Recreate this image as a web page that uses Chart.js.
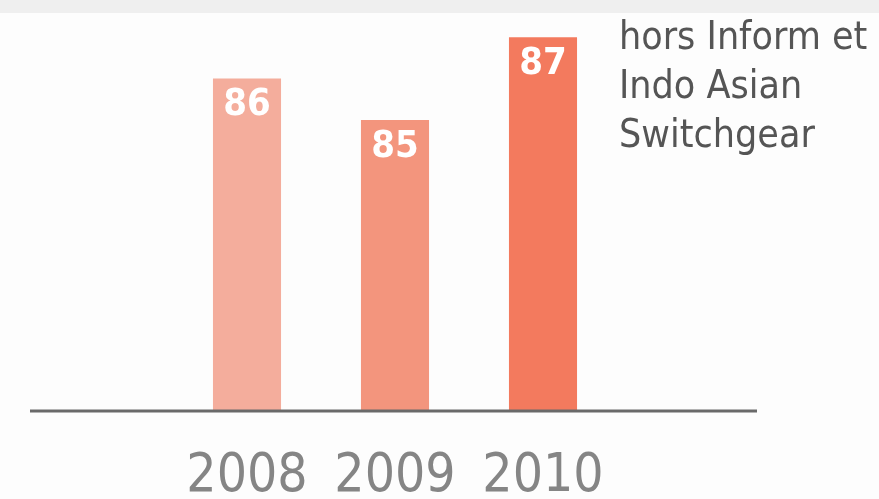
<!DOCTYPE html>
<html>
<head>
<meta charset="utf-8">
<script src="https://cdn.jsdelivr.net/npm/chart.js@4"></script>
<style>
  html, body { margin: 0; padding: 0; background: #fdfdfd; }
  #wrap { position: relative; width: 879px; height: 499px; overflow: hidden; background: #fdfdfd; }
  #strip { position: absolute; left: 0; top: 0; width: 879px; height: 13px; background: #efefef; }
  #note { position: absolute; left: 619px; top: 11px; font-family: "DejaVu Sans Condensed", "Liberation Sans Narrow", "Liberation Sans", sans-serif; font-size: 39px; line-height: 49px; color: #555; white-space: nowrap; }
  canvas { position: absolute; left: 0; top: 0; }
</style>
</head>
<body>
<div id="wrap">
  <div id="strip"></div>
  <canvas id="c" width="879" height="499"></canvas>
  <div id="note">hors Inform et<br>Indo Asian<br>Switchgear</div>
</div>
<script>
const years = ['2008', '2009', '2010'];
const values = [86, 85, 87];
const barColors = ['#f4ad9c', '#f3957d', '#f37a5e'];
const noteLines = ['hors Inform et', 'Indo Asian', 'Switchgear'];

const condensed = '"Liberation Sans Narrow", "DejaVu Sans Condensed", sans-serif';

const decor = {
  id: 'decor',
  afterDatasetsDraw(chart) {
    const ctx = chart.ctx;
    const area = chart.chartArea;
    ctx.save();
    ctx.strokeStyle = '#6a6a6a';
    ctx.lineWidth = 3;
    ctx.beginPath();
    ctx.moveTo(30, area.bottom + 1);
    ctx.lineTo(757, area.bottom + 1);
    ctx.stroke();
    const meta = chart.getDatasetMeta(0);
    ctx.fillStyle = '#ffffff';
    ctx.font = 'bold 38px ' + condensed;
    ctx.textAlign = 'center';
    ctx.textBaseline = 'middle';
    meta.data.forEach((bar, i) => {
      ctx.fillText(String(values[i]), bar.x, bar.y + 27);
    });
    ctx.restore();
  }
};

new Chart(document.getElementById('c'), {
  type: 'bar',
  data: {
    labels: years,
    datasets: [{
      data: values,
      backgroundColor: barColors,
      borderWidth: 0,
      barPercentage: 1,
      categoryPercentage: 0.46
    }]
  },
  options: {
    responsive: false,
    animation: false,
    events: [],
    layout: { padding: { left: 173, right: 262, top: 4, bottom: 0 } },
    plugins: { legend: { display: false }, tooltip: { enabled: false } },
    scales: {
      y: { display: false, min: 78, max: 87.8 },
      x: {
        grid: { display: false, drawTicks: false },
        border: { display: false },
        afterFit(scale) { scale.height = 89; },
        ticks: {
          color: '#858585',
          font: { family: condensed, size: 53 },
          padding: 35,
          maxRotation: 0
        }
      }
    }
  },
  plugins: [decor]
});
</script>
</body>
</html>
